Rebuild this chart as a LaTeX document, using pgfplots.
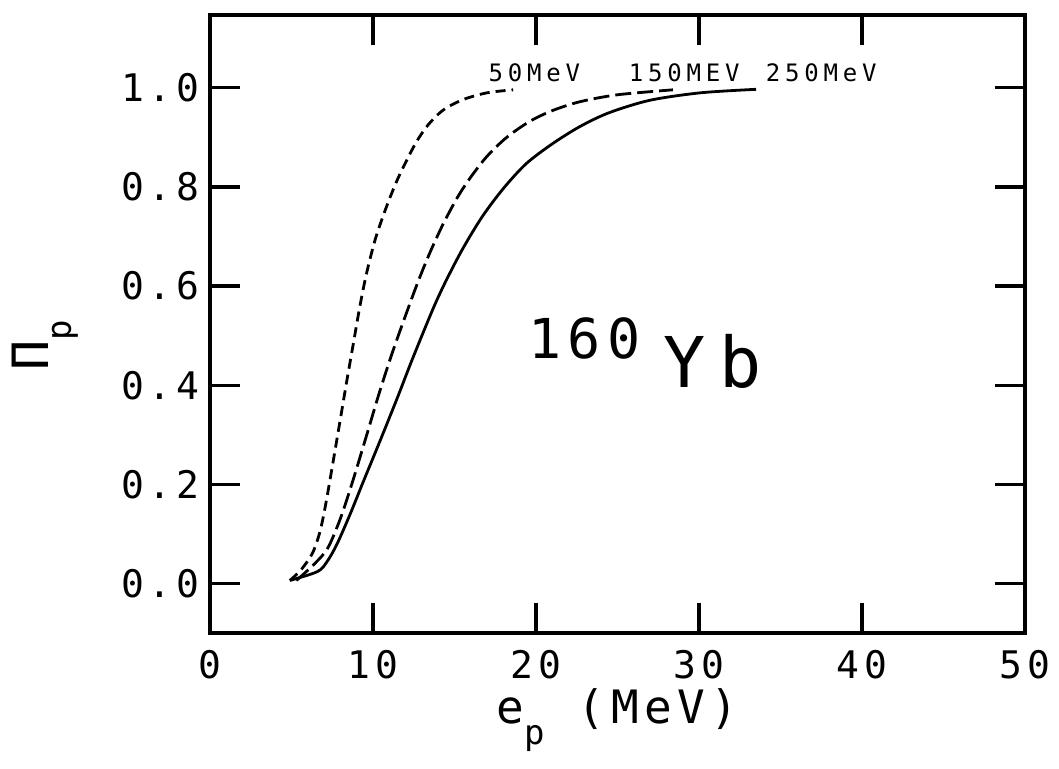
\documentclass[border=0pt]{standalone}
\usepackage{pgfplots}
\pgfplotsset{compat=1.18}
\usepackage{fontspec}
\setmainfont{DejaVu Sans Mono}
\newfontfamily\lblfont[LetterSpace=12]{DejaVu Sans Mono}
\newfontfamily\crvfont[LetterSpace=20]{DejaVu Sans Mono}
\begin{document}
\begin{tikzpicture}
\path[use as bounding box] (-105pt,-68pt) rectangle (424.5pt,316.5pt);
\begin{axis}[
  at={(0,0)}, anchor=south west,
  scale only axis, width=407.5pt, height=309pt,
  xmin=0, xmax=50, ymin=-0.1, ymax=1.147,
  xtick={0,10,...,50}, ytick={0,0.2,...,1.0},
  tick align=inside, major tick length=15pt,
  every tick/.style={line width=1.6pt, black},
  axis line style={line width=2pt},
  xticklabel style={font=\fontsize{19}{20}\lblfont, yshift=-8pt, inner sep=0.5pt},
  yticklabel style={font=\fontsize{19}{20}\lblfont, xshift=-2pt},
  /pgf/number format/assume math mode=true,
  yticklabel={\pgfmathprintnumber[fixed,fixed zerofill,precision=1]{\tick}},
  xticklabel={\pgfmathprintnumber[fixed,precision=0]{\tick}},
  xlabel={e\raisebox{-0.45em}{\fontsize{17}{18}\selectfont p} (MeV)},
  xlabel style={font=\fontsize{23}{25}\lblfont, at={(axis description cs:0.5,-0.147)}, anchor=base, inner sep=0pt},
  ylabel={Π\raisebox{-0.45em}{\fontsize{17}{18}\selectfont p}},
  ylabel style={font=\fontsize{25}{27}\selectfont, at={(axis description cs:-0.2025,0.466)}, anchor=center},
  clip=false,
]
\addplot[black, line width=1.4pt, dash pattern=on 5pt off 3pt, smooth, tension=0.5] coordinates {
(4.9,0.006) (5.6,0.028) (6.3,0.062) (6.75,0.105) (7.1,0.16) (7.55,0.245) (8.0,0.332) (8.4,0.41) (8.8,0.485) (9.2,0.56) (9.6,0.625) (10.1,0.69) (10.55,0.735) (11.0,0.775) (11.5,0.815) (12.1,0.856) (12.7,0.893) (13.4,0.926) (14.3,0.955) (15.5,0.976) (17.0,0.99) (18.6,0.996)
};
\addplot[black, line width=1.4pt, dash pattern=on 8pt off 3pt, smooth, tension=0.5] coordinates {
(5.3,0.006) (6.3,0.036) (7.2,0.07) (8.0,0.131) (8.8,0.211) (9.6,0.298) (10.4,0.386) (11.2,0.467) (12.1,0.55) (12.8,0.612) (13.5,0.668) (14.3,0.725) (15.2,0.78) (16.0,0.82) (17.0,0.862) (18.2,0.9) (19.6,0.932) (21.0,0.954) (22.7,0.972) (25.0,0.986) (28.4,0.996)
};
\addplot[black, line width=1.4pt, smooth, tension=0.5] coordinates {
(4.9,0.006) (6.6,0.024) (7.2,0.045) (7.8,0.08) (8.6,0.14) (9.4,0.205) (10.4,0.285) (11.5,0.375) (12.3,0.443) (13.1,0.508) (13.8,0.563) (14.5,0.612) (15.5,0.675) (16.7,0.74) (18.0,0.797) (19.4,0.847) (21.0,0.887) (22.7,0.922) (24.5,0.95) (27.0,0.975) (30.1,0.99) (33.5,0.997)
};
\node[font=\fontsize{12}{13}\crvfont, anchor=base] at (axis cs:19.9,1.012) {50MeV};
\node[font=\fontsize{12}{13}\crvfont, anchor=base] at (axis cs:29.1,1.012) {150MEV};
\node[font=\fontsize{12}{13}\crvfont, anchor=base] at (axis cs:37.5,1.012) {250MeV};
\node[font=\fontsize{27.5}{30}\lblfont, anchor=base west, inner sep=0pt] at (axis cs:19.5,0.453) {160};
\node[font=\fontsize{35}{38}\crvfont, anchor=base west, inner sep=0pt] at (axis cs:27.8,0.396) {Yb};
\end{axis}
\end{tikzpicture}
\end{document}
